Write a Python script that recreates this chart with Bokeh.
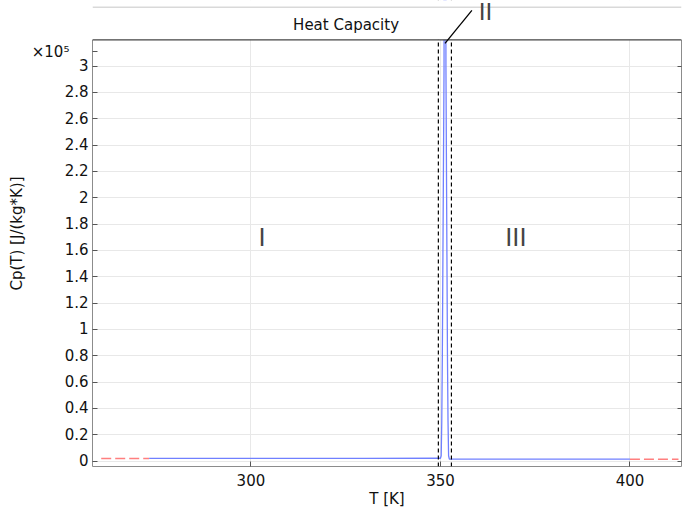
from bokeh.plotting import figure
from bokeh.models import (Range1d, LinearAxis, Span, Label, Arrow, FixedTicker,
                          BoxAnnotation)
from bokeh.embed import file_html
from bokeh.resources import INLINE

# ---- data (T in K, Cp in J/(kg*K)) ----
T_main = [273.15, 300.0, 330.0, 349.45, 350.0, 350.2, 350.35, 350.5, 350.95, 351.2,
          351.45, 351.85, 352.0, 352.15, 352.35, 352.9, 370.0, 400.0]
Cp_main = [2000, 2030, 2070, 2100, 2100, 4000, 30000, 80000, 300000, 1000000,
           300000, 80000, 30000, 4000, 1500, 1450, 1420, 1400]
T_ext_low = [260.5, 273.15]
Cp_ext_low = [1980, 2000]
T_ext_high = [400.0, 412.8]
Cp_ext_high = [1400, 1390]
T_bounds = [349.45, 352.9]           # phase-change interval (dashed lines)
x_ticks = [300, 350, 400]
y_ticks = [i * 20000 for i in range(16)]
y_tick_labels = ["0", "0.2", "0.4", "0.6", "0.8", "1", "1.2", "1.4", "1.6",
                 "1.8", "2", "2.2", "2.4", "2.6", "2.8", "3"]
y_multiplier_label = "×10⁵"
region_labels = ["I", "II", "III"]
Cp_axis_top = 320000

FONT = "DejaVu Sans"
NBSP = "\u00a0"
MULT_POS = 311000
X0, X1 = 258.2, 413.6
Y0, Y1 = -4170, 349850

p = figure(width=683, height=510, output_backend="svg", toolbar_location=None,
           x_range=Range1d(X0, X1), y_range=Range1d(Y0, Y1),
           min_border_left=92, min_border_right=2, min_border_top=0,
           min_border_bottom=43)
p.outline_line_color = None
p.background_fill_color = "white"
p.border_fill_color = "white"

# axes
yax = p.yaxis[0]
xax = p.xaxis[0]
xax.ticker = FixedTicker(ticks=x_ticks)
yax.ticker = FixedTicker(ticks=y_ticks + [MULT_POS])
overrides = {t: s for t, s in zip(y_ticks, y_tick_labels)}
overrides[MULT_POS] = y_multiplier_label + NBSP * 4
yax.major_label_overrides = overrides
yax.bounds = (Y0, Cp_axis_top)
for ax in (xax, yax):
    ax.major_tick_in = 5
    ax.major_tick_out = 0
    ax.minor_tick_in = 0
    ax.minor_tick_out = 0
    ax.axis_line_color = "#8c8c8c"
    ax.major_tick_line_color = "#555555"
    ax.major_label_text_font = FONT
    ax.major_label_text_font_size = "15px"
    ax.major_label_text_color = "#111111"
    ax.axis_label_text_font = FONT
    ax.axis_label_text_font_size = "15px"
    ax.axis_label_text_font_style = "normal"
    ax.axis_label_text_color = "#111111"
yax.major_label_standoff = 4
xax.major_label_standoff = 7
xax.axis_label = "T [K]"
yax.axis_label = "Cp(T) [J/(kg*K)]"
yax.axis_label_standoff = 3
xax.axis_label_standoff = 1

rax = LinearAxis(ticker=FixedTicker(ticks=y_ticks))
rax.bounds = (Y0, Cp_axis_top)
rax.major_tick_in = 4
rax.major_tick_out = 0
rax.minor_tick_in = 0
rax.minor_tick_out = 0
rax.major_label_overrides = {t: "" for t in y_ticks}
rax.major_label_standoff = 0
rax.axis_line_color = "#8c8c8c"
rax.major_tick_line_color = "#555555"
p.add_layout(rax, "right")

p.xgrid.ticker = FixedTicker(ticks=x_ticks)
p.ygrid.ticker = FixedTicker(ticks=y_ticks)
p.xgrid.grid_line_color = "#e8e8e8"
p.ygrid.grid_line_color = "#e8e8e8"

# curves
p.line(T_ext_low, Cp_ext_low, line_color="#ff7f7f", line_width=1.5, line_dash="10 4")
p.line(T_ext_high, Cp_ext_high, line_color="#ff7f7f", line_width=1.5, line_dash="10 4")
p.line(T_main, Cp_main, line_color="#7080ff", line_width=1.3)

for tb in T_bounds:
    p.add_layout(Span(location=tb, dimension="height", line_color="black",
                      line_width=1.2, line_dash="4 3"))

# white area above the axes box (title area)
p.add_layout(BoxAnnotation(bottom=Cp_axis_top, top=Y1 + 50000, left=200, right=500,
                           fill_color="white", fill_alpha=1.0,
                           line_color=None, level="overlay"))
p.add_layout(Span(location=Cp_axis_top, dimension="width", line_color="#444444",
                  line_width=1.2, level="overlay"))
# top separator line
p.add_layout(Span(location=344770, dimension="width", line_color="#d9d9d9",
                  line_width=1.5, level="overlay"))

# region labels
p.add_layout(Label(x=302.9, y=169500, text=region_labels[0], text_font=FONT,
                   text_font_size="24px", text_align="center", text_baseline="middle"))
p.add_layout(Label(x=369.9, y=169500, text=region_labels[2], text_font=FONT,
                   text_font_size="24px", text_align="center", text_baseline="middle"))
p.add_layout(Label(x=361.9, y=341000, text=region_labels[1], text_font=FONT,
                   text_font_size="23px", text_align="center", text_baseline="middle",
                   level="overlay"))
p.add_layout(Arrow(end=None, x_start=358.3, y_start=342300, x_end=351.2, y_end=317300,
                   line_color="black", line_width=1.3, level="overlay"))

# title
p.add_layout(Label(x=325.1, y=330900, text="Heat Capacity", text_font=FONT,
                   text_font_size="15px", text_align="center", text_baseline="middle",
                   text_color="#111111", level="overlay"))

open("out.html", "w").write(file_html(p, INLINE))
